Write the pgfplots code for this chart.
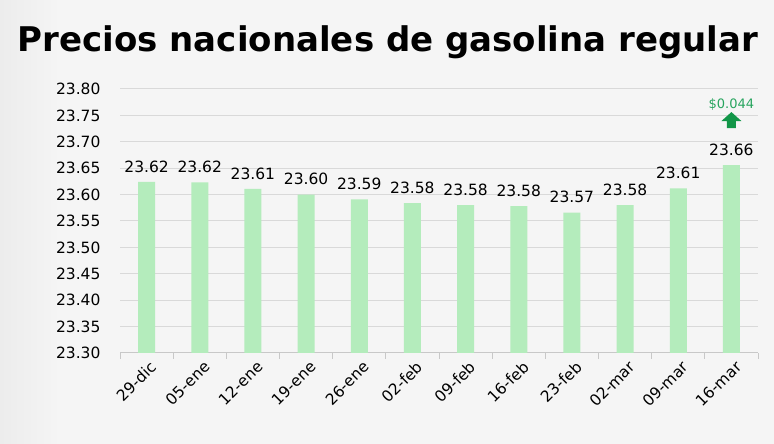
\documentclass[border=0pt]{standalone}
\usepackage{pgfplots}
\pgfplotsset{compat=1.18}
\usepackage{fontspec}
\setmainfont{DejaVu Sans}
\definecolor{bg}{RGB}{245,245,245}
\definecolor{bgdark}{RGB}{236,236,236}
\definecolor{barc}{RGB}{180,236,188}
\definecolor{gridc}{RGB}{217,217,217}
\definecolor{axisc}{RGB}{200,200,200}
\definecolor{upg}{RGB}{40,165,95}
\definecolor{arrowg}{RGB}{18,150,72}
\begin{document}
\begin{tikzpicture}[x=1pt,y=1pt]
\fill[bg] (0pt,0pt) rectangle (774pt,444pt);
\shade[left color=bgdark, right color=bg] (0pt,0pt) rectangle (60pt,444pt);
\useasboundingbox (0pt,0pt) rectangle (774pt,444pt);
\node[font=\fontsize{34}{40}\selectfont\bfseries] at (388pt,402pt) {Precios nacionales de gasolina regular};
\begin{axis}[
  at={(120pt,91pt)}, anchor=south west, scale only axis,
  width=638pt, height=264pt,
  y coord trafo/.code={\pgfmathparse{#1-23.3}},
  y coord inv trafo/.code={\pgfmathparse{#1+23.3}},
  xmin=-0.5, xmax=11.5, ymin=23.3, ymax=23.8,
  ytick={23.30,23.35,23.40,23.45,23.50,23.55,23.60,23.65,23.70,23.75,23.80},
  yticklabel style={/pgf/number format/fixed, /pgf/number format/fixed zerofill, /pgf/number format/precision=2, /pgf/number format/assume math mode=true, xshift=-16pt},
  ticklabel style={font=\fontsize{15.5}{18}\selectfont, text=black},
  axis x line*=bottom, axis y line*=left,
  y axis line style={draw=none},
  x axis line style={draw=axisc, line width=1pt},
  ytick style={draw=none},
  xtick={0,...,11},
  xticklabels={29-dic,05-ene,12-ene,19-ene,26-ene,02-feb,09-feb,16-feb,23-feb,02-mar,09-mar,16-mar},
  xticklabel style={xshift=3pt, yshift=-2pt, rotate=45, anchor=north east},
  xtick style={draw=none},
  extra x ticks={-0.5,0.5,1.5,2.5,3.5,4.5,5.5,6.5,7.5,8.5,9.5,10.5,11.5},
  extra x tick labels={},
  extra x tick style={xtick style={draw=axisc, line width=1pt}, major tick length=6pt, tick align=outside},
  ymajorgrids, grid style={draw=gridc, line width=1pt},
  clip=false,
]
\addplot[ybar, bar width=17pt, fill=barc, draw=none,
  point meta=rawy,
  nodes near coords,
  every node near coord/.append style={font=\fontsize{15.5}{18}\selectfont, text=black, yshift=6pt,
    /pgf/number format/fixed, /pgf/number format/fixed zerofill, /pgf/number format/precision=2, /pgf/number format/assume math mode=true}]
  coordinates {(0,23.624) (1,23.623) (2,23.611) (3,23.600) (4,23.591) (5,23.584) (6,23.580) (7,23.578) (8,23.566) (9,23.580) (10,23.612) (11,23.656)};
\node[font=\fontsize{13}{16}\selectfont, text=upg] at (axis cs:11,23.770) {\$0.044};
\fill[arrowg] (axis cs:11,23.726) ++(-4.5pt,0pt) -- ++(0pt,7pt) -- ++(-5.5pt,0pt) -- ++(10pt,9pt) -- ++(10pt,-9pt) -- ++(-5.5pt,0pt) -- ++(0pt,-7pt) -- cycle;
\end{axis}
\end{tikzpicture}
\end{document}
